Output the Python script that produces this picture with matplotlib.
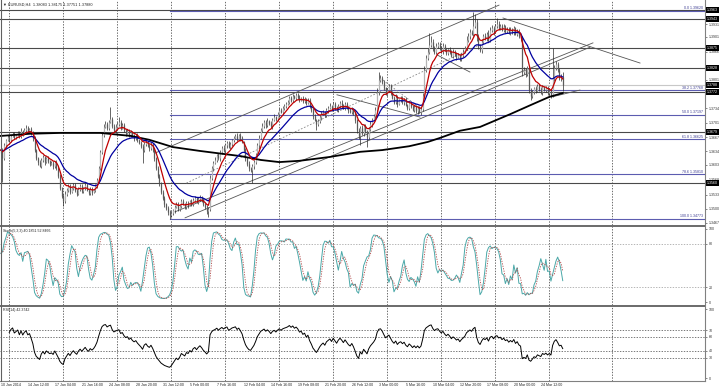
import numpy as np
import pandas as pd
import matplotlib
matplotlib.use("Agg")
import matplotlib.pyplot as plt
from matplotlib.lines import Line2D
import matplotlib.transforms as mtransforms

plt.rcParams['font.family'] = ['Liberation Sans', 'DejaVu Sans']

title = "\u25bc EURUSD,H4  1.38083 1.38175 1.37751 1.37880"
stoch_title = "Stoch(5,3,3) 40.1851 52.8466"
rsi_title = "RSI(14) 42.3742"

# 4h closes, one per bar
closes = [
    1.3637, 1.3618, 1.3649, 1.3661, 1.3668, 1.3661, 1.3670, 1.3675, 1.3668, 1.3672,
    1.3677, 1.3670, 1.3682, 1.3675, 1.3684, 1.3689, 1.3682, 1.3686, 1.3677, 1.3665,
    1.3637, 1.3618, 1.3609, 1.3600, 1.3614, 1.3621, 1.3609, 1.3618, 1.3611, 1.3605,
    1.3607, 1.3600, 1.3609, 1.3595, 1.3577, 1.3549, 1.3530, 1.3518, 1.3535, 1.3544,
    1.3553, 1.3539, 1.3549, 1.3556, 1.3544, 1.3535, 1.3546, 1.3553, 1.3542, 1.3549,
    1.3556, 1.3544, 1.3537, 1.3546, 1.3539, 1.3544, 1.3553, 1.3567, 1.3595, 1.3632,
    1.3672, 1.3691, 1.3698, 1.3689, 1.3702, 1.3709, 1.3693, 1.3684, 1.3691, 1.3698,
    1.3702, 1.3689, 1.3695, 1.3684, 1.3677, 1.3682, 1.3672, 1.3679, 1.3670, 1.3665,
    1.3670, 1.3661, 1.3654, 1.3647, 1.3637, 1.3651, 1.3656, 1.3647, 1.3642, 1.3649,
    1.3637, 1.3618, 1.3595, 1.3577, 1.3560, 1.3539, 1.3525, 1.3511, 1.3502, 1.3493,
    1.3486, 1.3490, 1.3497, 1.3504, 1.3511, 1.3500, 1.3507, 1.3518, 1.3511, 1.3504,
    1.3514, 1.3509, 1.3518, 1.3511, 1.3521, 1.3525, 1.3516, 1.3523, 1.3528, 1.3521,
    1.3511, 1.3504, 1.3495, 1.3500, 1.3572, 1.3595, 1.3607, 1.3614, 1.3625, 1.3618,
    1.3632, 1.3642, 1.3637, 1.3649, 1.3654, 1.3644, 1.3651, 1.3661, 1.3665, 1.3670,
    1.3663, 1.3672, 1.3665, 1.3656, 1.3637, 1.3618, 1.3605, 1.3595, 1.3591, 1.3600,
    1.3609, 1.3625, 1.3649, 1.3665, 1.3684, 1.3693, 1.3702, 1.3695, 1.3705, 1.3700,
    1.3693, 1.3707, 1.3714, 1.3709, 1.3721, 1.3730, 1.3726, 1.3735, 1.3740, 1.3744,
    1.3749, 1.3758, 1.3754, 1.3763, 1.3758, 1.3765, 1.3761, 1.3754, 1.3758, 1.3751,
    1.3756, 1.3747, 1.3754, 1.3740, 1.3730, 1.3716, 1.3707, 1.3698, 1.3705, 1.3714,
    1.3721, 1.3726, 1.3719, 1.3730, 1.3735, 1.3740, 1.3733, 1.3744, 1.3737, 1.3730,
    1.3740, 1.3747, 1.3742, 1.3735, 1.3744, 1.3737, 1.3730, 1.3726, 1.3733, 1.3723,
    1.3707, 1.3684, 1.3670, 1.3689, 1.3677, 1.3693, 1.3682, 1.3668, 1.3686, 1.3698,
    1.3707, 1.3716, 1.3730, 1.3772, 1.3800, 1.3805, 1.3796, 1.3782, 1.3768, 1.3777,
    1.3786, 1.3772, 1.3758, 1.3749, 1.3761, 1.3744, 1.3754, 1.3758, 1.3749, 1.3756,
    1.3742, 1.3735, 1.3747, 1.3740, 1.3730, 1.3737, 1.3728, 1.3735, 1.3726, 1.3733,
    1.3763, 1.3824, 1.3852, 1.3866, 1.3882, 1.3889, 1.3875, 1.3866, 1.3880, 1.3884,
    1.3875, 1.3868, 1.3880, 1.3870, 1.3863, 1.3873, 1.3866, 1.3856, 1.3866, 1.3861,
    1.3854, 1.3859, 1.3849, 1.3859, 1.3866, 1.3875, 1.3894, 1.3903, 1.3912, 1.3908,
    1.3926, 1.3936, 1.3903, 1.3880, 1.3870, 1.3889, 1.3903, 1.3898, 1.3908, 1.3894,
    1.3917, 1.3922, 1.3912, 1.3926, 1.3931, 1.3922, 1.3926, 1.3917, 1.3924, 1.3915,
    1.3919, 1.3910, 1.3917, 1.3912, 1.3922, 1.3908, 1.3915, 1.3903, 1.3898, 1.3819,
    1.3824, 1.3814, 1.3828, 1.3777, 1.3763, 1.3772, 1.3782, 1.3775, 1.3786, 1.3779,
    1.3772, 1.3784, 1.3777, 1.3782, 1.3770, 1.3775, 1.3765, 1.3805, 1.3828, 1.3838,
    1.3824, 1.3805, 1.3808, 1.3788,
]
first_open = 1.3630

# wick lengths in pips above max(open, close) and below min(open, close)
wick_up = [
    6, 4, 5, 3, 4, 6, 3, 5, 4, 3, 5, 4, 6, 3, 5, 7, 4, 3, 5, 4,
    5, 3, 4, 6, 4, 5, 3, 4, 6, 3, 4, 5, 3, 6, 4, 5, 3, 4, 6, 5,
    4, 6, 3, 5, 4, 3, 6, 4, 5, 3, 4, 5, 3, 4, 6, 3, 5, 4, 6, 5,
    8, 6, 7, 5, 6, 28, 6, 5, 7, 4, 12, 5, 4, 6, 3, 5, 4, 6, 3, 5,
    4, 6, 3, 5, 4, 6, 5, 3, 4, 6, 5, 4, 3, 5, 4, 3, 5, 4, 3, 4,
    4, 5, 3, 6, 4, 5, 3, 4, 6, 3, 5, 4, 3, 6, 4, 5, 3, 4, 5, 3,
    4, 3, 5, 4, 8, 6, 5, 7, 4, 6, 5, 4, 6, 3, 5, 4, 6, 3, 5, 4,
    6, 3, 5, 4, 3, 5, 4, 6, 3, 5, 4, 6, 5, 7, 4, 6, 5, 4, 6, 3,
    5, 4, 6, 3, 5, 4, 6, 5, 4, 6, 5, 4, 6, 5, 3, 6, 5, 4, 3, 5,
    4, 3, 5, 4, 3, 5, 4, 3, 5, 4, 6, 4, 3, 5, 4, 6, 3, 5, 4, 3,
    5, 4, 6, 3, 5, 4, 3, 5, 4, 3, 4, 3, 5, 4, 6, 5, 4, 3, 5, 6,
    5, 6, 8, 10, 19, 6, 5, 4, 3, 5, 6, 4, 3, 5, 6, 4, 3, 5, 4, 3,
    4, 3, 5, 4, 3, 5, 4, 3, 5, 4, 8, 10, 7, 9, 28, 15, 6, 5, 7, 4,
    5, 4, 6, 5, 4, 3, 5, 4, 6, 5, 4, 5, 3, 4, 6, 5, 8, 6, 7, 5,
    33, 19, 6, 5, 4, 7, 5, 6, 4, 8, 6, 7, 5, 6, 14, 6, 5, 4, 6, 5,
    4, 5, 6, 4, 5, 3, 5, 4, 3, 5, 6, 5, 4, 3, 4, 5, 3, 4, 6, 5,
    4, 5, 3, 5, 4, 3, 4, 70, 8, 6, 5, 4, 6, 10,
]
wick_dn = [
    5, 56, 4, 6, 3, 5, 4, 3, 6, 4, 3, 5, 4, 6, 3, 4, 5, 3, 4, 6,
    5, 4, 6, 3, 5, 4, 6, 3, 4, 5, 3, 6, 4, 5, 6, 4, 5, 12, 4, 5,
    4, 5, 3, 6, 4, 5, 3, 4, 6, 5, 4, 3, 5, 4, 6, 3, 4, 5, 3, 4,
    5, 4, 3, 6, 4, 3, 5, 4, 6, 3, 4, 5, 3, 4, 6, 3, 5, 4, 3, 6,
    4, 5, 3, 6, 30, 4, 5, 3, 6, 4, 5, 6, 5, 4, 6, 5, 4, 6, 5, 7,
    10, 5, 4, 6, 3, 5, 4, 6, 3, 5, 4, 6, 3, 5, 4, 6, 3, 5, 4, 6,
    5, 4, 6, 14, 5, 4, 6, 3, 5, 4, 6, 3, 5, 4, 6, 3, 5, 4, 6, 3,
    5, 4, 6, 3, 5, 6, 5, 7, 4, 31, 6, 5, 4, 6, 3, 5, 4, 6, 3, 5,
    4, 6, 3, 5, 4, 6, 3, 5, 4, 6, 3, 5, 4, 6, 3, 5, 4, 6, 3, 5,
    4, 6, 3, 5, 4, 6, 3, 14, 5, 4, 6, 3, 5, 4, 6, 3, 5, 4, 6, 3,
    5, 4, 6, 3, 5, 4, 6, 3, 5, 4, 8, 7, 6, 21, 5, 6, 4, 24, 5, 4,
    6, 3, 5, 4, 6, 5, 4, 6, 3, 5, 4, 6, 3, 5, 4, 6, 3, 5, 4, 6,
    3, 5, 4, 6, 3, 5, 4, 6, 3, 7, 6, 5, 4, 6, 5, 4, 6, 5, 4, 6,
    5, 4, 6, 3, 5, 4, 6, 3, 5, 4, 6, 3, 5, 4, 6, 3, 5, 4, 6, 3,
    6, 5, 12, 8, 5, 6, 4, 5, 6, 4, 5, 4, 6, 3, 5, 4, 6, 3, 5, 4,
    6, 3, 5, 4, 6, 3, 5, 4, 6, 10, 5, 6, 4, 8, 9, 5, 4, 6, 3, 5,
    4, 6, 3, 5, 4, 6, 7, 5, 6, 4, 5, 4, 6, 13,
]

# 200 MA (bar index, price)
ma200_bar = [0, 17, 35, 59, 77, 88, 102, 118, 128, 142, 154, 165, 177, 195,
             213, 226, 242, 253, 260, 272, 284, 302, 314, 325, 333]
ma200_val = [1.3670, 1.3675, 1.3677, 1.3677, 1.3670, 1.3661, 1.3644, 1.3635,
             1.3630, 1.3623, 1.3614, 1.3609, 1.3612, 1.3621, 1.3633, 1.3637,
             1.3646, 1.3656, 1.3665, 1.3682, 1.3691, 1.3721, 1.3742, 1.3761, 1.3770]

time_labels = ["10 Jan 2014", "14 Jan 12:00", "17 Jan 04:00", "21 Jan 16:00",
               "24 Jan 08:00", "28 Jan 20:00", "31 Jan 12:00", "5 Feb 00:00",
               "7 Feb 16:00", "12 Feb 04:00", "14 Feb 16:00", "19 Feb 08:00",
               "21 Feb 20:00", "26 Feb 12:00", "3 Mar 00:00", "5 Mar 16:00",
               "10 Mar 04:00", "12 Mar 20:00", "17 Mar 08:00", "20 Mar 00:00",
               "24 Mar 12:00"]
label_bar0 = 5
label_step = 16
grid_bars = [5, 37, 69, 101, 133, 165, 197, 229, 261, 293, 325, 362]

# right-axis prices (the ones hidden under line boxes are left out)
price_ticks = [1.3931, 1.3901, 1.3866, 1.3801, 1.3734, 1.3701,
               1.3667, 1.3634, 1.3603, 1.3568, 1.3533, 1.3500, 1.3467]
hlines = [1.3963, 1.3943, 1.3875, 1.3828, 1.3772, 1.3679, 1.3560]

fib_start = 100
fib_hi, fib_lo = 1.39620, 1.34773
fib_levels = [0.0, 38.2, 50.0, 61.8, 78.6, 100.0]

# trend lines: (bar0, price0, bar1, price1, dotted)
trendlines = [
    (91.4, 1.3630, 295.2, 1.3975, False),
    (103.2, 1.3493, 350.9, 1.3887, False),
    (109.2, 1.3479, 349.2, 1.3877, False),
    (297.6, 1.3945, 378.8, 1.3840, False),
    (326.6, 1.3761, 343.2, 1.3777, False),
    (110.0, 1.3560, 285.0, 1.3885, True),
    (199.2, 1.3766, 248.4, 1.3714, False),
    (226.5, 1.3800, 250.2, 1.3730, True),
    (258.5, 1.3859, 278.0, 1.3819, False),
]

stoch_levels = [80, 20]
rsi_levels = [70, 60, 40, 30]

# ---- derived series
c = np.array(closes)
x = np.arange(len(c))
o = np.r_[first_open, c[:-1]]
hi = np.maximum(o, c) + np.array(wick_up) / 1e4
lo = np.minimum(o, c) - np.array(wick_dn) / 1e4

sc = pd.Series(c)
ema_fast = sc.ewm(span=8, adjust=False).mean()
ema_slow = sc.ewm(span=21, adjust=False).mean()

ll = pd.Series(lo).rolling(5, min_periods=1).min()
hh = pd.Series(hi).rolling(5, min_periods=1).max()
st_k = (sc - ll).rolling(3, min_periods=1).sum() / (hh - ll).rolling(3, min_periods=1).sum() * 100
st_d = st_k.rolling(3, min_periods=1).mean()

delta = sc.diff()
gain = delta.clip(lower=0).ewm(alpha=1 / 14, min_periods=5).mean()
loss = (-delta.clip(upper=0)).ewm(alpha=1 / 14, min_periods=5).mean()
rsi = 100 - 100 / (1 + gain / loss)

# ---- figure in pixel layout
W, H = 720, 389
fig = plt.figure(figsize=(W / 100, H / 100), dpi=100)
fig.patch.set_facecolor('white')
RIGHT = 705


def panel(top, bottom):
    a = fig.add_axes([0, 1 - bottom / H, RIGHT / W, (bottom - top) / H])
    for s in a.spines.values():
        s.set_visible(False)
    a.set_xlim(-0.47, 417.3)
    a.set_xticks([])
    a.yaxis.tick_right()
    a.tick_params(axis='y', length=1.5, width=0.5, pad=1, labelsize=2.6,
                  color='#555555', labelcolor='#333333')
    for b in grid_bars:
        a.axvline(b, color='#333333', lw=0.5, ls=(0, (2, 2)), zorder=0)
    return a


ax = panel(0, 225)
ax_st = panel(226, 305)
ax_rsi = panel(306, 381)

# main price panel
ax.set_ylim(1.34623, 1.39870)
ax.set_yticks(price_ticks)
ax.set_yticklabels([f"{p:.4f}" for p in price_ticks])

for p in hlines:
    ax.axhline(p, color='#4a4a4a', lw=0.8, zorder=1)
ax.axhline(c[-1], color='#c8c8c8', lw=0.8, zorder=1)

fib_prices = [fib_hi - lv / 100 * (fib_hi - fib_lo) for lv in fib_levels]
for lv, fp in zip(fib_levels, fib_prices):
    ax.plot([fib_start, 417.3], [fp, fp], color='#5c5cb0', lw=0.8, zorder=2)
    ax.text(416.0, fp + 0.00012, f"{lv:.1f} {fp:.5f}", ha='right', va='bottom',
            fontsize=2.6, color='#3a3a90')

for b0, p0, b1, p1, dotted in trendlines:
    if dotted:
        ax.plot([b0, b1], [p0, p1], color='#888888', lw=0.6, ls=(0, (2, 2)), zorder=2)
    else:
        ax.plot([b0, b1], [p0, p1], color='#555555', lw=0.6, zorder=2)

ax.vlines(x, lo, hi, color='#2a2a2a', lw=0.5, zorder=3)
up = c >= o
ax.vlines(x[up], o[up], c[up], color='#b4b4b4', lw=0.9, zorder=4)
ax.vlines(x[~up], c[~up], o[~up], color='#5a5a5a', lw=0.9, zorder=4)

ax.plot(ma200_bar, ma200_val, color='black', lw=1.3, zorder=5)
ax.plot(x, ema_slow, color='#0000a0', lw=0.9, zorder=6)
ax.plot(x, ema_fast, color='#c00000', lw=0.9, zorder=7)

blend = mtransforms.blended_transform_factory(ax.transAxes, ax.transData)
for p in hlines + [c[-1]]:
    ax.text(1.0025, p, f"{p:.4f}", transform=blend, ha='left', va='center',
            fontsize=2.6, color='white', clip_on=False, zorder=10,
            bbox=dict(boxstyle='square,pad=0.25', fc='black', ec='none'))

ax.text(0.004, 0.99, title, transform=ax.transAxes, ha='left', va='top',
        fontsize=2.8, color='#222222')

# stochastic panel
ax_st.set_ylim(-4.1, 104.1)
ax_st.set_yticks([100, 80, 20, 0])
for lv in stoch_levels:
    ax_st.axhline(lv, color='#999999', lw=0.5, ls=(0, (2, 2)))
ax_st.plot(x, st_k, color='#4aa8a8', lw=0.7)
ax_st.plot(x, st_d, color='#b04848', lw=0.6, ls=(0, (1.5, 1.5)))
ax_st.text(0.004, 0.96, stoch_title, transform=ax_st.transAxes, ha='left',
           va='top', fontsize=2.6, color='#222222')

# RSI panel
ax_rsi.set_ylim(-3.9, 104.8)
ax_rsi.set_yticks([100, 70, 60, 40, 30, 0])
for lv in rsi_levels:
    ax_rsi.axhline(lv, color='#444444', lw=0.5, ls=(0, (2, 2)))
ax_rsi.plot(x, rsi, color='black', lw=0.7)
ax_rsi.text(0.004, 0.97, rsi_title, transform=ax_rsi.transAxes, ha='left',
            va='top', fontsize=2.6, color='#222222')

for k, lab in enumerate(time_labels):
    b = label_bar0 + label_step * k
    ax_rsi.annotate(lab, xy=(b, 0), xycoords=('data', 'axes fraction'),
                    xytext=(-5.8, -2.9), textcoords='offset points', ha='left',
                    va='center', fontsize=2.6, color='#222222', annotation_clip=False)

# frame lines
for yy in (225.5, 305.5):
    fig.add_artist(Line2D([0, RIGHT / W], [1 - yy / H] * 2, transform=fig.transFigure,
                          color='#6a6a6a', lw=1.4))
fig.add_artist(Line2D([RIGHT / W] * 2, [1 - 381 / H, 1], transform=fig.transFigure,
                      color='#808080', lw=0.8))
fig.add_artist(Line2D([0, RIGHT / W], [1 - 381 / H] * 2, transform=fig.transFigure,
                      color='#808080', lw=0.8))
fig.add_artist(Line2D([0.0007, 0.0007], [1 - 381 / H, 1], transform=fig.transFigure,
                      color='#606060', lw=0.8))

fig.savefig("out.png", dpi=100)
